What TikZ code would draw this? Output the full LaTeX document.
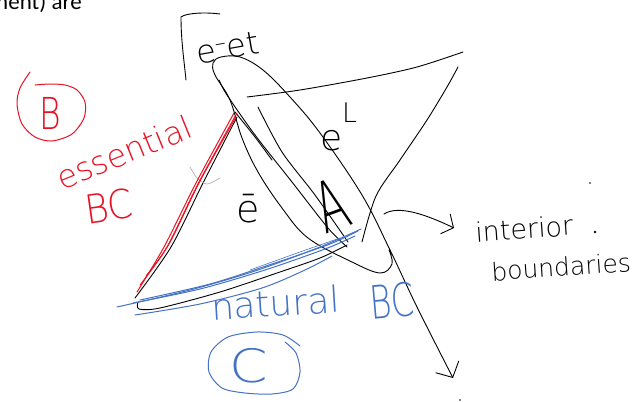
\documentclass[tikz,border=0pt]{standalone}
\usepackage{fontspec}
\usepackage{xcolor}
\usepackage{tikz}
\usetikzlibrary{arrows.meta}
\newfontfamily\handfont{DejaVu Sans ExtraLight}
\newfontfamily\docfont{Carlito}
\definecolor{penred}{RGB}{231,18,36}
\definecolor{penblue}{RGB}{68,114,196}
\newcommand{\hw}[1]{\handfont\fontsize{#1}{#1}\selectfont}

\begin{document}
\begin{tikzpicture}[x=1pt, y=-1pt,
    ink/.style={line width=0.9pt, line cap=round, line join=round},
    redink/.style={ink, penred, line width=1pt},
    blueink/.style={ink, penblue, line width=1pt},
    txt/.style={inner sep=0pt, outer sep=0pt},
    barb/.style={-{Straight Barb[length=12pt, width=26pt]}},
]
\useasboundingbox (0,0) rectangle (638,402);

% Page text cut at the top
\node[txt, anchor=base west, font=\docfont\fontsize{23}{23}\selectfont] (pagetext) at (-10,9) {ment) are};

% Jump bracket
\draw[ink] (220,14) .. controls (205,12) and (186,13) .. (181,17) .. controls (181,40) and (184,60) .. (186,80);
\node[txt, anchor=base west, rotate=10, font=\hw{32}] (jump) at (198,64) {e\textsuperscript{\textendash}et};

% Ellipse round the interface, running on into the long arrow
\draw[ink, barb] plot[smooth, tension=0.6] coordinates {(389,250) (392,264) (380,273) (352,262) (308,238) (282,208) (258,172) (242,138) (230,100) (215,75) (213,63) (221,57) (240,57) (263,70) (290,97) (320,133) (362,195) (390,250) (417,307) (453,378)};

% Interface lines
\draw[ink] plot[smooth] coordinates {(219,80) (227,95) (255,135) (292,182) (328,228) (347,247)};
\draw[ink] plot[smooth] coordinates {(235,112) (255,137) (272,160)};
\draw[ink] plot[smooth] coordinates {(258,107) (282,152) (315,195) (348,242)};

% Left element
\draw[ink] plot[smooth] coordinates {(237,117) (203,183) (171,247) (135,298)};
\draw[ink] plot[smooth] coordinates {(138,302) (139,309) (160,308) (220,292) (277,273) (320,258) (347,245)};
\draw[ink, gray!60, line width=0.7pt] plot[smooth] coordinates {(190,167) (197,178) (207,184) (220,178)};

% Right element
\draw[ink] plot[smooth] coordinates {(247,97) (300,90) (367,78) (417,67) (463,52)};
\draw[ink] plot[smooth] coordinates {(458,67) (447,87) (427,120) (400,160) (376,196) (362,242)};

% Element labels
\node[txt, anchor=base west, font=\hw{38}] (eleft) at (236,222) {ē};
\node[txt, anchor=base west, font=\hw{36}] (eright) at (320,150) {e\raisebox{28pt}{\fontsize{27}{27}\selectfont L}};
\node[txt, rotate=20, xscale=0.65, font=\hw{70}] (interA) at (331,205) {A};

% Essential BC (red)
\draw[redink] plot[smooth] coordinates {(234,113) (196,183) (164,247) (137,292)};
\draw[redink] plot[smooth] coordinates {(237,113) (198,184) (167,247) (140,285)};
\draw[redink] plot[smooth] coordinates {(236,117) (200,181) (169,244) (146,276)};
\node[txt, anchor=base west, rotate=22, font=\hw{32}, text=penred] (essential) at (62,190) {essential};
\node[txt, anchor=base west, rotate=8, xscale=0.9, font=\hw{40}, text=penred] (essentialbc) at (87,224) {BC};
\draw[redink] plot[smooth] coordinates {(30,72) (20,88) (17,104) (22,124) (35,137) (52,141) (72,134) (84,118) (85,102) (77,90) (65,85) (50,84) (35,85)};
\node[txt, xscale=0.75, font=\hw{44}, text=penred] (markB) at (50,113) {B};

% Natural BC (blue)
\draw[blueink] plot[smooth] coordinates {(117,307) (190,290) (255,271) (320,247) (361,229)};
\draw[blueink] plot[smooth] coordinates {(133,303) (200,289) (265,270) (325,249) (355,236)};
\draw[blueink] plot[smooth] coordinates {(140,300) (210,284) (272,264) (330,244) (358,231)};
\draw[blueink] plot[smooth] coordinates {(135,315) (200,304) (262,288) (305,270) (332,256)};
\draw[blueink, line width=0.6pt] plot[smooth] coordinates {(250,270) (300,252) (340,238)};
\node[txt, anchor=base west, rotate=3.5, font=\hw{36}, text=penblue] (natural) at (212,320) {natural};
\node[txt, anchor=base west, rotate=5, xscale=0.72, font=\hw{46}, text=penblue] (naturalbc) at (371,319) {BC};
\draw[blueink] plot[smooth] coordinates {(285,342) (296,353) (300,372) (293,389) (272,394) (245,393) (222,388) (209,372) (211,352) (228,337) (257,332) (283,335) (300,346)};
\node[txt, xscale=1.2, font=\hw{46}, text=penblue] (markC) at (249,366) {C};

% Interior boundaries
\draw[ink, -{Straight Barb[length=9pt, width=22pt]}] (384,214) .. controls (398,205) and (425,214) .. (454,228);
\node[txt, anchor=base west, rotate=4, font=\hw{27}] (interior) at (476,242) {interior};
\node[txt, anchor=base west, rotate=4, font=\hw{25}] (boundaries) at (492,281) {boundaries};

% Stray dots
\fill (590,183) circle[radius=0.9];
\fill (595,232) circle[radius=1.3];
\fill (460,400) circle[radius=0.8];
\end{tikzpicture}
\end{document}
